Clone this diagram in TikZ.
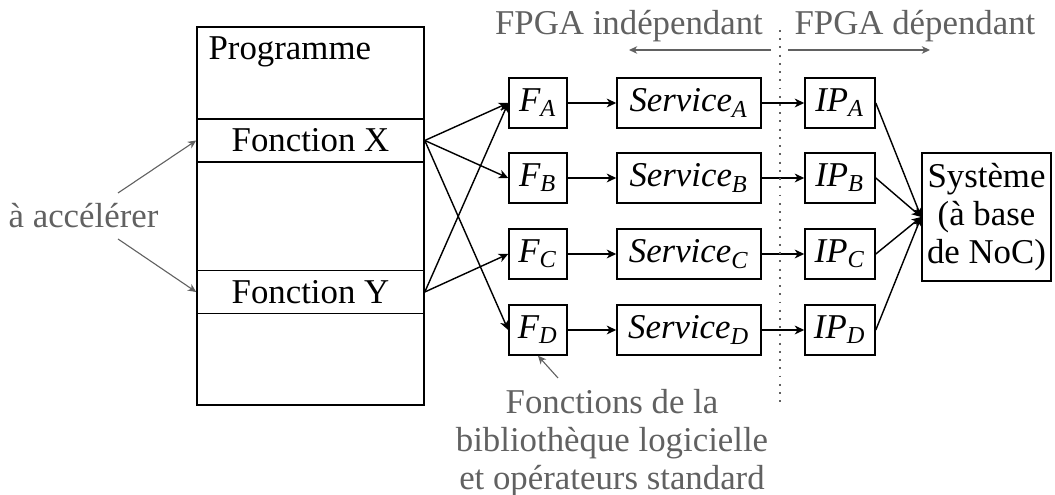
\documentclass[tikz,border=0pt]{standalone}
\usepackage{fontspec}
\setmainfont{Liberation Serif}
\usetikzlibrary{arrows.meta}
\newcommand\pxu{0.316pt}
\newcommand\itsub[2]{$\mathit{#1}_{\mathit{#2}}$}
\definecolor{labgray}{gray}{0.38}
\tikzset{
  box/.style={draw, line width=0.5pt, inner sep=0pt, minimum width=#1*\pxu, minimum height=50*\pxu},
  band/.style={draw, line width=0.5pt, inner sep=0pt, minimum width=227*\pxu, minimum height=43*\pxu},
  labtext/.style={text=labgray, inner sep=0pt},
  conn/.style={-{Stealth[length=3pt,width=2.8pt,inset=0.9pt]}, line width=0.45pt},
  labarrow/.style={-{Stealth[length=2.6pt,width=2.4pt,inset=0.8pt]}, line width=0.35pt, draw=labgray}
}
\begin{document}
\fontsize{11}{12}\selectfont
\begin{tikzpicture}[x=\pxu, y=-\pxu, font=\fontsize{11}{12}\selectfont]
\useasboundingbox (0,0) rectangle (1055,495);
% program column
\node[draw, line width=0.5pt, inner sep=0pt, minimum width=227*\pxu, minimum height=378*\pxu] (prog) at (310.5,216) {};
\node[inner sep=0pt, anchor=base west] (progt) at (208,60) {Programme};
\node[band] (fx) at (310.5,140.5) {Fonction X};
\node[band] (fy) at (310.5,292) {Fonction Y};
% label a accelerer
\node[labtext, anchor=base] (acc) at (83.5,228) {à accélérer};
\coordinate (acc1) at (118,193);
\coordinate (acc2) at (118,239);
\draw[labarrow] (acc1) -- (fx.west);
\draw[labarrow] (acc2) -- (fy.west);
% rows
\foreach \r/\y in {A/103,B/178,C/254,D/330}{
  \node[box=58] (f\r) at (538,\y) {\itsub{F}{\r}};
  \node[box=144] (s\r) at (689,\y) {\itsub{Service}{\r}};
  \node[box=70] (ip\r) at (840,\y) {\itsub{IP}{\r}};
}
\node[draw, line width=0.5pt, inner sep=0pt, align=center, minimum width=129*\pxu, minimum height=128*\pxu] (sys) at (986.5,217) {Système\\(à base\\de NoC)};
% connectors
\foreach \r in {A,B,C,D}{
  \draw[conn] (f\r) -- (s\r);
  \draw[conn] (s\r) -- (ip\r);
  \draw[conn] (ip\r.east) -- (sys.west);
}
\draw[conn] (fx.east) -- (fA.west);
\draw[conn] (fx.east) -- (fB.west);
\draw[conn] (fx.east) -- (fD.west);
\draw[conn] (fy.east) -- (fA.west);
\draw[conn] (fy.east) -- (fC.west);
% FPGA split
\node[labtext, anchor=base] (hi) at (629,35) {FPGA indépendant};
\node[labtext, anchor=base] (hd) at (915,35) {FPGA dépendant};
\coordinate (dtop) at (780,30);
\coordinate (dbot) at (780,402);
\draw[dotted, line width=0.6pt, draw=labgray] (dtop) -- (dbot);
\coordinate (ai1) at (771,50);
\coordinate (ai2) at (629,50);
\coordinate (ad1) at (788,50);
\coordinate (ad2) at (930,50);
\draw[labarrow] (ai1) -- (ai2);
\draw[labarrow] (ad1) -- (ad2);
% library label
\node[labtext, align=center, anchor=north] (lib) at (612,389) {Fonctions de la\\bibliothèque logicielle\\et opérateurs standard};
\coordinate (libtip) at (558,378);
\draw[labarrow] (libtip) -- (fD.south);
\end{tikzpicture}
\end{document}
